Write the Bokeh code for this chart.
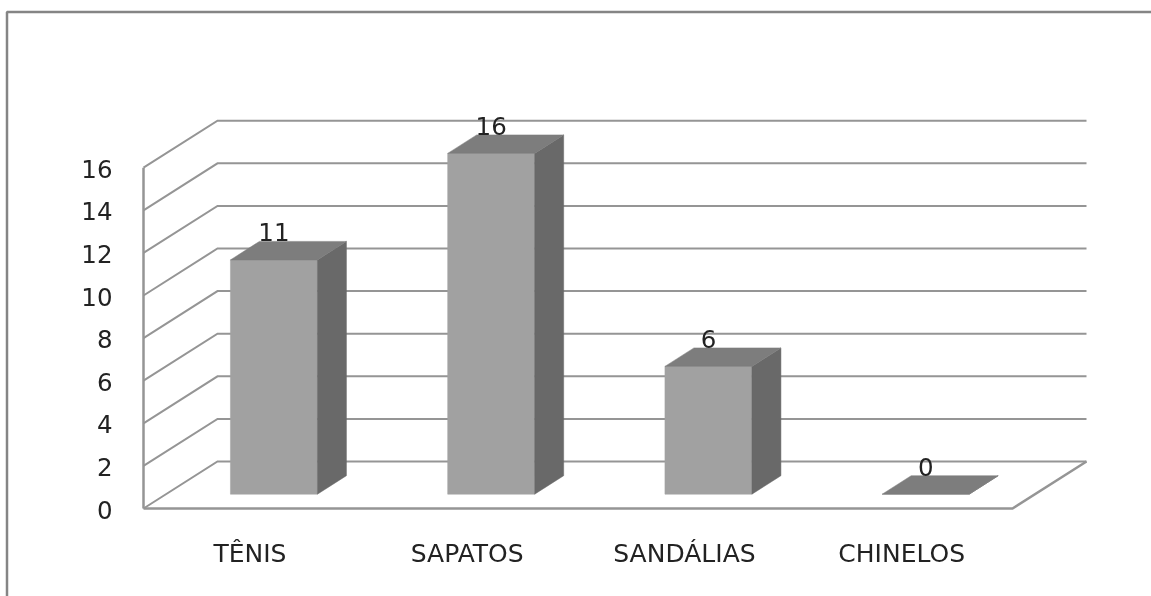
from bokeh.plotting import figure
from bokeh.models import Range1d, LinearAxis, FixedTicker
from bokeh.core.properties import value
from bokeh.embed import file_html
from bokeh.resources import INLINE

categories = ["TÊNIS", "SAPATOS", "SANDÁLIAS", "CHINELOS"]
values = [11, 16, 6, 0]
y_ticks = [0, 2, 4, 6, 8, 10, 12, 14, 16]

W, H = 1151, 596
PX_X, PX_Y = 217.25, 21.3      # pixels per category / per unit
X0, Y0 = 143, 508              # page position of the front-left origin
def dx(px): return px / PX_X
def dy(px): return px / PX_Y
def X(px): return (px - X0) / PX_X
def Y(py): return (Y0 - py) / PX_Y

FONT = "DejaVu Sans"
FS = "24.5px"
TXT = "#222222"
GRID = "#959595"

p = figure(width=W, height=H, output_backend="svg", toolbar_location=None,
           x_range=Range1d(X(0), X(W)), y_range=Range1d(Y(H), Y(0)),
           x_axis_type=None, y_axis_type=None,
           min_border=0, min_border_left=0, min_border_right=0,
           min_border_top=0, min_border_bottom=0,
           styles={"position": "fixed", "left": "0", "top": "0"})
p.outline_line_color = None
p.grid.visible = False
p.background_fill_color = "#ffffff"
p.border_fill_color = "#ffffff"

# outer chart frame (top and left only)
p.line([X(6.5), X(6.5), X(W)], [Y(H), Y(11.5), Y(11.5)], line_color="#858585", line_width=2.5)

# 3-D floor depth
DX, DY = dx(74), dy(47)
n = len(categories)

# wall grid lines
xs, ys = [], []
for t in y_ticks:
    xs.append([0, DX, n + DX])
    ys.append([t, t + DY, t + DY])
p.multi_line(xs, ys, line_color=GRID, line_width=2, line_join="miter")
# left wall edge and floor edge
p.line([0, 0], [y_ticks[0], y_ticks[-1]], line_color=GRID, line_width=2.5)
p.line([0, n, n + DX], [0, 0, DY], line_color=GRID, line_width=2.5, line_join="miter")

# bars
GX, GY = dx(21.8), dy(14.3)     # offset of a bar from the front floor edge
BX, BY = dx(29), dy(18.5)       # depth of a bar
HW = dx(43.5)
fx, fy, sx, sy, tx, ty = [], [], [], [], [], []
lx, ly = [], []
for i, v in enumerate(values):
    c = i + 0.5 + GX
    l, r = c - HW, c + HW
    b, t = GY, GY + v
    fx.append([l, r, r, l]); fy.append([b, b, t, t])
    sx.append([r, r + BX, r + BX, r]); sy.append([b, b + BY, t + BY, t])
    tx.append([l, r, r + BX, l + BX]); ty.append([t, t, t + BY, t + BY])
    lx.append(c); ly.append(t + BY)

p.patches(fx, fy, fill_color="#a1a1a1", line_color="#a1a1a1", line_width=0.5)
p.patches(sx, sy, fill_color="#696969", line_color="#696969", line_width=0.5)
p.patches(tx, ty, fill_color="#7d7d7d", line_color="#7d7d7d", line_width=0.5)

p.text(lx, ly, text=[str(v) for v in values], text_font=value(FONT), text_font_size=value(FS),
       text_color=TXT, text_align="center", text_baseline="bottom", y_offset=0)

# axes
p.extra_y_ranges = {"lab": Range1d(Y(H - 1), Y(-1))}
ya = LinearAxis(ticker=FixedTicker(ticks=y_ticks), y_range_name="lab", fixed_location=X(120),
                axis_line_color=None, major_tick_line_color=None, minor_tick_line_color=None,
                major_label_standoff=2, major_label_text_font=FONT,
                major_label_text_font_size=FS, major_label_text_color=TXT)
p.add_layout(ya, "left")

xa = LinearAxis(ticker=FixedTicker(ticks=[i + 0.49 for i in range(n)]),
                major_label_overrides={i + 0.49: c for i, c in enumerate(categories)},
                fixed_location=0,
                axis_line_color=None, major_tick_line_color=None, minor_tick_line_color=None,
                major_label_standoff=24, major_label_text_font=FONT,
                major_label_text_font_size="25px", major_label_text_color=TXT)
p.add_layout(xa, "below")

open("out.html", "w").write(file_html(p, INLINE))
